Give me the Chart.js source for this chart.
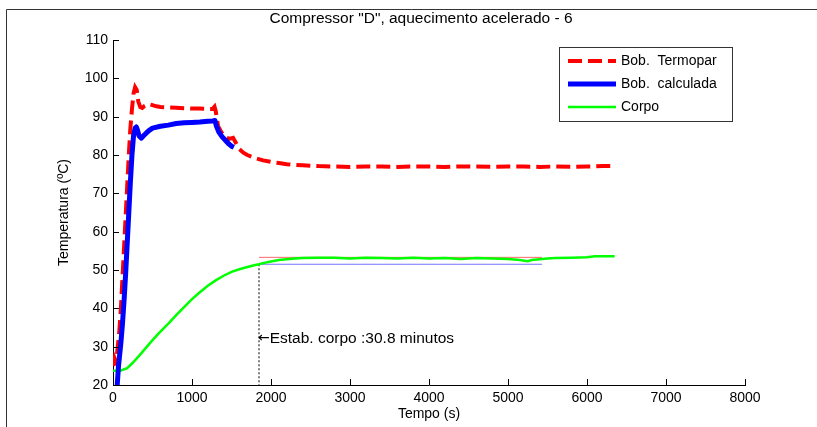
<!DOCTYPE html>
<html>
<head>
<meta charset="utf-8">
<script src="https://cdn.jsdelivr.net/npm/chart.js@4/dist/chart.umd.min.js"></script>
<style>
  html, body { margin: 0; padding: 0; background: #fff; }
</style>
</head>
<body>
<canvas id="grafico" width="817" height="427"></canvas>
<script>
// Bobina - termopar (s, ºC)
const tempoTermopar = [0, 20, 40, 60, 80, 100, 120, 140, 160, 180, 200, 220, 240, 260, 280, 300, 320, 345, 370, 400, 450, 500, 550, 600, 700, 800, 900, 1000, 1100, 1200, 1260, 1285, 1300, 1330, 1370, 1420, 1470, 1520, 1560, 1600, 1650, 1700, 1800, 1900, 2000, 2100, 2200, 2300, 2400, 2500, 2600, 2800, 3000, 3200, 3400, 3600, 3800, 4000, 4200, 4400, 4600, 4800, 5000, 5200, 5400, 5600, 5800, 6000, 6200, 6310];
const tempTermopar = [25, 27, 26, 30, 34, 40, 48, 56, 64, 72, 80, 87, 92, 96, 97.7, 97, 94, 92.5, 92.3, 92.8, 93.3, 93, 92.7, 92.5, 92.4, 92.3, 92.2, 92.1, 92.1, 92.0, 92.0, 92.6, 91.5, 87.5, 86, 84.7, 84.2, 84.5, 83, 81.5, 80.6, 80, 79.2, 78.6, 78.2, 77.9, 77.6, 77.4, 77.3, 77.2, 77.1, 77.0, 76.9, 77.0, 77.0, 76.9, 77.0, 77.0, 76.9, 77.0, 77.0, 76.9, 77.0, 77.0, 76.9, 77.0, 76.9, 77.0, 77.1, 77.1];

// Bobina - calculada
const tempoCalc = [50, 60, 70, 80, 100, 120, 140, 160, 180, 200, 220, 240, 260, 280, 295, 310, 330, 360, 400, 450, 500, 600, 700, 800, 900, 1000, 1100, 1200, 1260, 1290, 1310, 1340, 1380, 1420, 1460, 1500, 1530];
const tempCalc = [19, 22, 25, 27, 31, 36, 42, 49, 57, 65, 73, 80, 85, 87, 87.3, 86.5, 85, 84.4, 85.3, 86.3, 87, 87.5, 87.8, 88.2, 88.4, 88.5, 88.6, 88.8, 88.9, 89, 87.5, 86, 84.8, 83.9, 83, 82.3, 82];

// Corpo
const tempoCorpo = [0, 100, 180, 250, 330, 400, 500, 600, 700, 800, 900, 1000, 1100, 1200, 1300, 1400, 1500, 1600, 1700, 1800, 1850, 1900, 2000, 2100, 2200, 2300, 2400, 2600, 2800, 3000, 3200, 3400, 3600, 3800, 4000, 4200, 4400, 4600, 4800, 5000, 5150, 5250, 5300, 5400, 5500, 5600, 5800, 6000, 6100, 6200, 6350];
const tempCorpo = [23.7, 23.8, 24.4, 25.8, 27.6, 29.3, 31.7, 33.9, 36.0, 38.2, 40.3, 42.4, 44.2, 45.9, 47.3, 48.5, 49.5, 50.2, 50.8, 51.3, 51.5, 51.8, 52.2, 52.6, 52.8, 53.0, 53.1, 53.2, 53.2, 53.0, 53.2, 53.1, 53.0, 53.2, 53.0, 53.1, 52.9, 53.1, 53.0, 52.9, 52.6, 52.3, 52.6, 52.8, 53.0, 53.1, 53.2, 53.3, 53.6, 53.6, 53.6];

// estabilizacao do corpo
const tempoEstab = 30.8 * 60;
const fimFaixa = 5430;
const faixaSup = 53.3;
const faixaInf = 51.5;
const yTexto = 32.2;

const xTicks = [0, 1000, 2000, 3000, 4000, 5000, 6000, 7000, 8000];
const yTicks = [20, 30, 40, 50, 60, 70, 80, 90, 100, 110];

const legendas = ['Bob.  Termopar', 'Bob.  calculada', 'Corpo'];
const titulo = 'Compressor "D", aquecimento acelerado - 6';
const fonte = '"Liberation Sans", Arial, sans-serif';

function pares(ts, vs) {
  return ts.map((t, i) => ({ x: t, y: vs[i] }));
}

// moldura, ticks para dentro, titulos, legenda e anotacao
const extras = {
  id: 'extras',
  afterDraw(chart) {
    const ctx = chart.ctx;
    const xs = chart.scales.x, ys = chart.scales.y;
    const a = chart.chartArea;
    ctx.save();

    ctx.strokeStyle = '#333';
    ctx.lineWidth = 1;
    ctx.beginPath();
    ctx.moveTo(6.5, 427); ctx.lineTo(6.5, 9.5); ctx.lineTo(817, 9.5);
    ctx.stroke();

    ctx.strokeStyle = '#000';
    ctx.beginPath();
    xTicks.forEach(v => {
      const p = Math.round(xs.getPixelForValue(v)) + 0.5;
      ctx.moveTo(p, a.bottom); ctx.lineTo(p, a.bottom - 6);
    });
    yTicks.forEach(v => {
      const p = Math.round(ys.getPixelForValue(v)) + 0.5;
      ctx.moveTo(a.left, p); ctx.lineTo(a.left + 6, p);
    });
    ctx.stroke();

    ctx.fillStyle = '#000';
    ctx.font = '15.5px ' + fonte;
    ctx.textAlign = 'center';
    ctx.textBaseline = 'middle';
    ctx.fillText(titulo, 421, 19);

    ctx.font = '14px ' + fonte;
    ctx.fillText('Tempo (s)', (a.left + a.right) / 2, 414);
    ctx.save();
    ctx.translate(64, (a.top + a.bottom) / 2);
    ctx.rotate(-Math.PI / 2);
    ctx.fillText('Temperatura (ºC)', 0, 0);
    ctx.restore();

    // anotacao: seta mais larga em DejaVu
    ctx.textAlign = 'left';
    const ax = xs.getPixelForValue(tempoEstab), ay = ys.getPixelForValue(yTexto);
    ctx.font = '14px "DejaVu Sans", sans-serif';
    ctx.fillText('\u2190', ax - 1, ay);
    const wSeta = ctx.measureText('\u2190').width;
    ctx.font = '15.5px ' + fonte;
    ctx.fillText('Estab. corpo :30.8 minutos', ax - 1 + wSeta, ay);

    // legenda
    ctx.font = '14px ' + fonte;
    ctx.fillStyle = '#fff';
    ctx.fillRect(559.5, 47.5, 173, 74);
    ctx.strokeStyle = '#333';
    ctx.strokeRect(559.5, 47.5, 173, 74);
    legendas.forEach((txt, i) => {
      const ds = chart.data.datasets[i];
      const y = 61 + i * 23;
      ctx.strokeStyle = ds.borderColor;
      ctx.lineWidth = ds.borderWidth;
      ctx.setLineDash(ds.borderDash || []);
      ctx.beginPath();
      ctx.moveTo(568, y); ctx.lineTo(616, y);
      ctx.stroke();
      ctx.setLineDash([]);
      ctx.fillStyle = '#000';
      ctx.fillText(txt, 621, y);
    });
    ctx.restore();
  }
};

const comum = { pointRadius: 0, tension: 0, fill: false, borderCapStyle: 'butt' };

new Chart('grafico', {
  type: 'line',
  data: {
    datasets: [
      { ...comum, label: legendas[0], data: pares(tempoTermopar, tempTermopar), borderColor: '#ff0000', borderWidth: 4, borderDash: [14, 6], order: 1 },
      { ...comum, label: legendas[1], data: pares(tempoCalc, tempCalc), borderColor: '#0000ff', borderWidth: 5, borderJoinStyle: 'round', order: 0 },
      { ...comum, label: legendas[2], data: pares(tempoCorpo, tempCorpo), borderColor: '#00ff00', borderWidth: 2.5, order: 2 },
      { ...comum, label: 'sup', data: pares([tempoEstab, fimFaixa], [faixaSup, faixaSup]), borderColor: 'rgba(255,0,0,0.6)', borderWidth: 1, order: 3 },
      { ...comum, label: 'inf', data: pares([tempoEstab, fimFaixa], [faixaInf, faixaInf]), borderColor: 'rgba(0,0,255,0.55)', borderWidth: 1, order: 3 },
      { ...comum, label: 'estab', data: pares([tempoEstab, tempoEstab], [faixaInf, 20]), borderColor: '#000', borderWidth: 1, borderDash: [2, 2], order: 4 }
    ]
  },
  options: {
    responsive: false,
    animation: false,
    layout: { padding: { left: 0, right: 72, top: 40, bottom: 0 } },
    plugins: { legend: { display: false }, tooltip: { enabled: false }, title: { display: false } },
    scales: {
      x: {
        type: 'linear', min: 0, max: 8000,
        afterBuildTicks: s => { s.ticks = xTicks.map(v => ({ value: v })); },
        ticks: { color: '#000', font: { family: fonte, size: 14 }, padding: 5, maxRotation: 0, autoSkip: false, callback: v => String(v) },
        grid: { display: false, drawTicks: false },
        border: { color: '#000', width: 1 },
        afterFit: s => { s.height = 42; }
      },
      y: {
        min: 20, max: 110,
        afterBuildTicks: s => { s.ticks = yTicks.map(v => ({ value: v })); },
        ticks: { color: '#000', font: { family: fonte, size: 14 }, padding: 5, autoSkip: false, callback: v => String(v) },
        grid: { display: false, drawTicks: false },
        border: { color: '#000', width: 1 },
        afterFit: s => { s.width = 113; }
      }
    }
  },
  plugins: [extras]
});
</script>
</body>
</html>
